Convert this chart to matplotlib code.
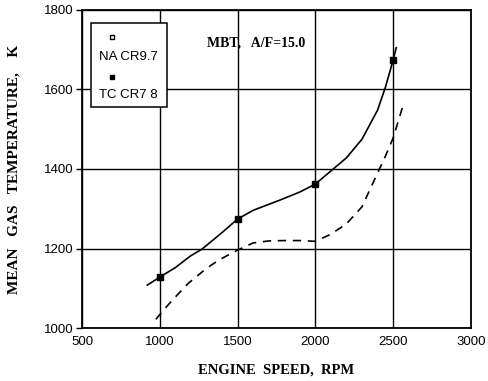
import matplotlib
matplotlib.use("Agg")
import matplotlib.pyplot as plt

# TC CR7.8 (solid, filled markers)
tc_speed = [920, 1000, 1100, 1200, 1270, 1400, 1500, 1600, 1700, 1774, 1900, 2000,
            2100, 2200, 2300, 2400, 2450, 2500, 2520]
tc_temp = [1108, 1128, 1152, 1182, 1198, 1240, 1274, 1296, 1311, 1322, 1342, 1362,
           1395, 1428, 1475, 1548, 1605, 1674, 1705]
tc_pts_speed = [1000, 1500, 2000, 2500]
tc_pts_temp = [1128, 1274, 1362, 1674]

# NA CR9.7 (dashed)
na_speed = [975, 1044, 1100, 1182, 1300, 1380, 1500, 1600, 1700, 1800, 1900, 2000,
            2100, 2200, 2300, 2400, 2450, 2500, 2560]
na_temp = [1022, 1054, 1078, 1112, 1150, 1171, 1196, 1214, 1219, 1220, 1220, 1218,
           1236, 1262, 1305, 1390, 1432, 1478, 1555]

x_ticks = [500, 1000, 1500, 2000, 2500, 3000]
y_ticks = [1000, 1200, 1400, 1600, 1800]

fig = plt.figure(figsize=(4.88, 3.81), dpi=100)
ax = fig.add_axes([0.168, 0.139, 0.797, 0.835])

ax.plot(tc_speed, tc_temp, color="black", linewidth=1.2)
ax.plot(tc_pts_speed, tc_pts_temp, linestyle="none", marker="s", markersize=4,
        color="black")
ax.plot(na_speed, na_temp, color="black", linewidth=1.2, linestyle=(0, (5, 4)))

ax.set_xlim(500, 3000)
ax.set_ylim(1000, 1800)
ax.set_xticks(x_ticks)
ax.set_yticks(y_ticks)
ax.grid(True, color="black", linewidth=1.0)
ax.tick_params(axis="y", direction="out", length=4, width=1.0, labelsize=9.5,
               pad=2)
ax.tick_params(axis="x", direction="out", length=0, labelsize=9.5, pad=6)
for lab in ax.get_xticklabels() + ax.get_yticklabels():
    lab.set_fontfamily("Liberation Sans")
for spine in ax.spines.values():
    spine.set_linewidth(1.3)

ax.set_xlabel("ENGINE  SPEED,  RPM", fontfamily="Liberation Serif", fontsize=10.5,
              fontweight="bold", labelpad=11)
ax.set_ylabel("MEAN   GAS   TEMPERATURE,    K", fontfamily="Liberation Serif",
              fontsize=11, fontweight="bold", labelpad=17)

ax.text(0.447, 0.896, "MBT,   A/F=15.0", transform=ax.transAxes, ha="center",
        va="center", fontfamily="Liberation Serif", fontsize=10,
        fontweight="bold")

# legend box with marker placed above each label
box = plt.Rectangle((0.022, 0.694), 0.197, 0.266, transform=ax.transAxes,
                    facecolor="white", edgecolor="black", linewidth=1.1,
                    zorder=3)
ax.add_patch(box)
ax.plot([0.076], [0.914], transform=ax.transAxes, marker="s", markersize=3.5,
        markerfacecolor="white", markeredgecolor="black", linestyle="none",
        zorder=4)
ax.text(0.12, 0.853, "NA CR9.7", transform=ax.transAxes, ha="center",
        va="center", fontfamily="Liberation Sans", fontsize=9.5, zorder=4)
ax.plot([0.076], [0.788], transform=ax.transAxes, marker="s", markersize=3.5,
        color="black", linestyle="none", zorder=4)
ax.text(0.12, 0.733, "TC CR7 8", transform=ax.transAxes, ha="center",
        va="center", fontfamily="Liberation Sans", fontsize=9.5, zorder=4)

fig.savefig("out.png", dpi=100)
